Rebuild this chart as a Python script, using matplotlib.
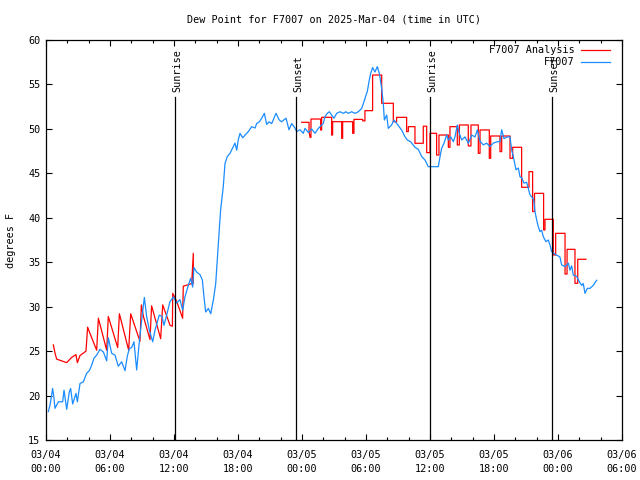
import matplotlib
matplotlib.use("Agg")
import matplotlib.pyplot as plt
from matplotlib.lines import Line2D

plt.rcParams['font.family'] = ['DejaVu Sans Mono', 'DejaVu Sans']

# ---- data (hours since 2025-03-04 00:00 UTC) ----
obs_hours = [0.22, 0.375, 0.53, 0.62, 0.75, 0.84, 1.16, 1.56, 1.69, 1.94, 2.19, 2.31, 2.5, 2.81, 2.94,
             3.19, 3.5, 3.81, 4.06, 4.28, 4.5, 4.75, 5.06, 5.38, 5.69, 5.84, 6.16, 6.47, 6.78, 7.09,
             7.41, 7.62, 7.81, 8.03, 8.25, 8.5, 8.75, 8.97, 9.22, 9.44, 9.69, 10.0, 10.22, 10.44,
             10.62, 10.87, 11.06, 11.31, 11.62, 11.94, 12.25, 12.56, 12.81, 13.03, 13.34, 13.56,
             13.75, 13.87, 14.12, 14.44, 14.66, 14.81, 14.97, 15.22, 15.44, 15.69, 15.91, 16.16,
             16.37, 16.62, 16.78, 17.0, 17.25, 17.56, 17.72, 17.88, 18.03, 18.19, 18.44, 18.66,
             18.97, 19.28, 19.6, 19.75, 20.0, 20.22, 20.47, 20.69, 20.9, 21.16, 21.56, 21.87,
             22.09, 22.5, 22.78, 23.03, 23.34, 23.5, 23.81, 24.12, 24.28, 24.59, 24.9, 25.22,
             25.53, 26.0, 26.15, 26.37, 26.56, 26.78, 27.0, 27.25, 27.56, 27.87, 28.12, 28.34,
             28.65, 28.97, 29.28, 29.59, 29.81, 30.0, 30.12, 30.31, 30.44, 30.62, 30.84, 31.06,
             31.25, 31.47, 31.62, 31.72, 31.94, 32.09, 32.4, 32.62, 32.87, 33.34, 33.65, 33.87,
             34.18, 34.59, 34.9, 35.22, 35.53, 35.84, 36.31, 36.78, 36.94, 37.09, 37.31, 37.56,
             37.72, 37.94, 38.19, 38.34, 38.56, 38.75, 38.97, 39.28, 39.59, 39.91, 40.22, 40.44,
             40.69, 41.0, 41.31, 41.62, 41.94, 42.31, 42.56, 42.72, 42.94, 43.25, 43.5, 43.66,
             43.81, 44.06, 44.28, 44.44, 44.59, 44.81, 45.06, 45.22, 45.37, 45.69, 45.75, 45.84,
             46.0, 46.15, 46.31, 46.47, 46.62, 46.87, 47.09, 47.25, 47.4, 47.62, 47.87, 48.18,
             48.34, 48.66, 48.97, 49.12, 49.28, 49.43, 49.75, 50.0, 50.22, 50.37, 50.53, 50.75,
             51.0, 51.31, 51.62]
obs_dewpt = [18.19, 18.94, 20.06, 20.8, 19.7, 18.56, 19.3, 19.3, 20.6, 18.45, 20.44, 20.8, 19.05, 20.25, 19.3,
             21.36, 21.55, 22.5, 22.8, 23.4, 24.2, 24.55, 25.2, 24.9, 23.9, 26.5, 24.75, 24.55, 23.3, 23.8,
             22.8, 24.4, 25.3, 25.4, 26.05, 22.88, 26.05, 28.5, 31.04, 28.86, 27.36, 26.05, 27.36, 28.3,
             29.05, 28.9, 27.9, 29.05, 30.55, 31.1, 30.4, 30.8, 29.6, 31.1, 32.4, 33.2,
             32.2, 34.4, 33.9, 33.6, 33.0, 31.1, 29.4, 29.8, 29.2, 30.75, 32.6, 37.1,
             40.9, 43.5, 46.1, 46.9, 47.25, 48.0, 48.4, 47.6, 48.8, 49.5, 49.0, 49.3,
             49.7, 50.25, 50.1, 50.6, 50.8, 51.2, 51.75, 50.5, 50.8, 50.6, 51.75, 51.0,
             50.8, 51.2, 49.9, 50.6, 50.1, 49.7, 49.9, 49.5, 50.06, 49.6, 50.0, 49.5,
             50.06, 50.63, 51.37, 51.75, 51.93, 51.56, 51.2, 51.75, 51.93, 51.75, 51.93, 51.75,
             51.93, 51.75, 51.93, 52.3, 53.06, 53.8, 54.2, 55.5, 56.25, 56.9, 56.4, 57.0,
             56.25, 54.56, 52.88, 51.0, 51.56, 50.06, 50.44, 51.0, 50.63, 49.87, 49.12, 48.75,
             48.56, 47.93, 47.7, 46.9, 46.5, 45.75, 45.75, 45.75, 46.88, 47.81, 48.38, 49.31,
             48.75, 49.1, 48.56, 49.1, 50.44, 49.5, 48.75, 49.1, 48.38, 49.3, 49.1, 49.9,
             48.6, 48.2, 48.4, 48.0, 48.4, 48.56, 48.56, 49.9, 48.9, 49.1, 49.1, 47.6,
             46.9, 45.4, 45.6, 44.6, 44.5, 43.9, 44.0, 43.3, 42.6, 42.1, 41.8, 40.7,
             39.76, 39.0, 38.44, 38.6, 37.88, 37.31, 37.5, 36.94, 36.2, 36.0, 35.8, 35.6,
             34.7, 34.5, 34.9, 34.1, 34.6, 33.56, 33.4, 32.8, 32.4, 32.6, 31.5, 32.06,
             32.06, 32.4, 32.97]

ana1_hours = [0.69, 0.84, 1.0, 1.47, 1.94, 2.41, 2.81, 2.94, 3.19, 3.75, 3.9, 4.12, 4.75, 4.91, 5.69,
              5.84, 6.72, 6.88, 7.75, 7.94, 8.81, 8.94, 9.13, 9.75, 9.9, 10.75, 10.94, 11.63,
              11.85, 11.88, 12.25, 12.81, 12.87, 13.66, 13.81, 13.81]
ana1_dewpt = [25.7, 24.8, 24.1, 23.9, 23.7, 24.3, 24.6, 23.7, 24.5, 25.0, 27.7, 27.0, 25.1, 28.7, 25.1,
              28.9, 25.4, 29.2, 25.1, 29.2, 26.1, 30.2, 28.9, 26.3, 30.1, 26.4, 30.2, 27.9,
              27.8, 31.5, 30.6, 28.7, 32.3, 32.6, 36.0, 32.6]

ana2_hours = [23.97, 24.66, 24.66, 24.75, 24.84, 24.84, 25.75, 25.75, 25.84, 25.84, 26.78, 26.78,
              26.87, 26.87, 27.72, 27.72, 27.81, 27.81, 28.75, 28.75, 28.87, 28.87, 29.69, 29.69,
              29.9, 29.9, 30.62, 30.62, 31.47, 31.47, 32.56, 32.56, 32.87, 32.87, 33.81, 33.81,
              33.97, 33.97, 34.59, 34.59, 35.37, 35.37, 35.69, 35.69, 36.0, 36.0, 36.62, 36.62,
              36.84, 36.84, 37.72, 37.72, 37.87, 37.87, 38.56, 38.56, 38.75, 38.75, 39.59, 39.59,
              39.84, 39.84, 40.53, 40.53, 40.69, 40.69, 41.56, 41.56, 41.69, 41.69, 42.56, 42.56,
              42.72, 42.72, 43.5, 43.5, 43.75, 43.75, 44.59, 44.59, 45.28, 45.28, 45.62, 45.62,
              45.8, 45.8, 46.65, 46.65, 46.78, 46.78, 47.56, 47.56, 47.78, 47.78, 48.66, 48.66,
              48.85, 48.85, 49.59, 49.59, 49.85, 49.85, 50.62]
ana2_dewpt = [50.74, 50.74, 49.7, 49.05, 49.05, 51.11, 51.11, 49.87, 49.87, 51.3, 51.3, 49.31,
              49.31, 50.81, 50.81, 48.94, 48.94, 50.81, 50.81, 49.5, 49.5, 51.07, 51.07, 50.9,
              50.9, 52.05, 52.05, 56.06, 56.06, 52.88, 52.88, 50.81, 50.81, 51.3, 51.3, 49.69,
              49.69, 50.25, 50.25, 48.38, 48.38, 50.3, 50.3, 47.33, 47.33, 49.5, 49.5, 47.06,
              47.06, 49.31, 49.31, 47.93, 47.93, 50.25, 50.25, 48.19, 48.19, 50.44, 50.44, 48.08,
              48.08, 50.44, 50.44, 47.25, 47.25, 49.88, 49.88, 46.69, 46.69, 49.2, 49.2, 47.44,
              47.44, 49.2, 49.2, 46.69, 46.69, 47.93, 47.93, 43.43, 43.43, 45.19, 45.19, 40.7,
              40.7, 42.75, 42.75, 38.63, 38.63, 39.83, 39.83, 35.81, 35.81, 38.25, 38.25, 33.67,
              33.67, 36.45, 36.45, 32.63, 32.63, 35.33, 35.33]

sun_hours = [12.07, 23.44, 36.0, 47.44]
sun_labels = ['Sunrise', 'Sunset', 'Sunrise', 'Sunset']

xtick_hours = [0, 6, 12, 18, 24, 30, 36, 42, 48, 54]
xtick_labels = ['03/04\n00:00', '03/04\n06:00', '03/04\n12:00', '03/04\n18:00', '03/05\n00:00',
                '03/05\n06:00', '03/05\n12:00', '03/05\n18:00', '03/06\n00:00', '03/06\n06:00']

RED = '#ff0000'
BLUE = '#1a8cff'
FS = 7.3

fig = plt.figure(figsize=(6.4, 4.8), dpi=100)
ax = fig.add_axes([46/640, 40/480, 576/640, 400/480])

ax.plot(ana1_hours, ana1_dewpt, color=RED, lw=0.9)
ax.plot(ana2_hours, ana2_dewpt, color=RED, lw=0.9)
ax.plot(obs_hours, obs_dewpt, color=BLUE, lw=0.9)

for h, lab in zip(sun_hours, sun_labels):
    ax.plot([h, h], [15, 53.6], color='black', lw=0.9)
    ax.text(h + 0.2, 54.1, lab, rotation=90, ha='center', va='bottom', fontsize=FS)

ax.set_xlim(0, 54)
ax.set_ylim(15, 60)
ax.set_xticks(xtick_hours)
ax.set_xticklabels(xtick_labels, linespacing=1.55)
ax.set_xticks(list(range(0, 55, 2)), minor=True)
ax.set_yticks(list(range(15, 61, 5)))
ax.tick_params(axis='both', which='major', direction='in', length=4, width=0.8,
               top=True, right=True, labelsize=FS)
ax.tick_params(axis='x', which='major', pad=7)
ax.tick_params(axis='y', which='major', pad=4)
ax.tick_params(axis='x', which='minor', direction='in', length=2.5, width=0.8, top=True)
for sp in ax.spines.values():
    sp.set_linewidth(0.9)

ax.set_ylabel('degrees F', fontsize=FS, labelpad=9)
fig.text(334/640, 1 - 19/480, 'Dew Point for F7007 on 2025-Mar-04 (time in UTC)',
         ha='center', va='center', fontsize=FS)

# legend (manual, gnuplot style)
ax.text(0.918, 0.975, 'F7007 Analysis', transform=ax.transAxes, ha='right', va='center', fontsize=FS)
ax.text(0.918, 0.945, 'F7007', transform=ax.transAxes, ha='right', va='center', fontsize=FS)
ax.add_line(Line2D([0.929, 0.979], [0.975, 0.975], transform=ax.transAxes, color=RED, lw=0.9))
ax.add_line(Line2D([0.929, 0.979], [0.945, 0.945], transform=ax.transAxes, color=BLUE, lw=0.9))

fig.savefig('out.png', dpi=100)
